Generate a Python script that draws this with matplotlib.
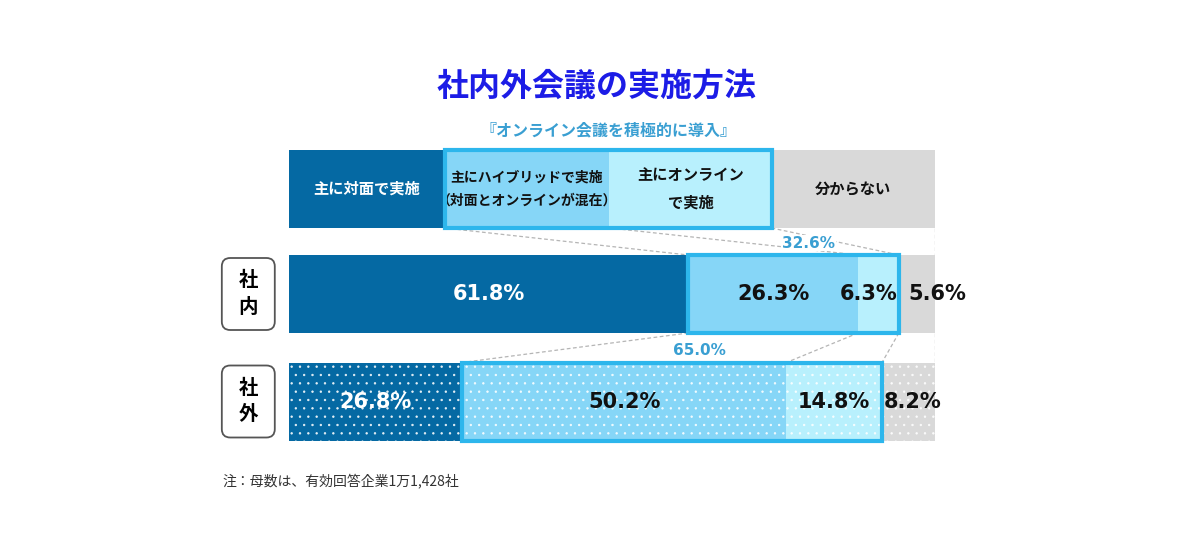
import matplotlib
matplotlib.use('Agg')
import matplotlib.pyplot as plt
from matplotlib.patches import Rectangle, FancyBboxPatch
import numpy as np

plt.rcParams['font.family'] = ['Noto Sans CJK JP', 'DejaVu Sans']
plt.rcParams['hatch.linewidth'] = 0.5

# data
header_labels = ['主に対面で実施', '主にハイブリッドで実施\n（対面とオンラインが混在）',
                 '主にオンライン\nで実施', '分からない']
header_widths = [24.1, 25.5, 25.1, 25.3]
rows = ['社\n内', '社\n外']
shanai = [61.8, 26.3, 6.3, 5.6]
shagai = [26.8, 50.2, 14.8, 8.2]
online_total = [32.6, 65.0]

title = '社内外会議の実施方法'
subtitle = '『オンライン会議を積極的に導入』'
note = '注：母数は、有効回答企業1万1,428社'

colors = ['#0569a3', '#86d6f7', '#b8f0fd', '#d9d9d9']
box_color = '#2db6ec'
callout_color = '#3a9fd2'

# layout (y in pixels from top)
header_y, header_h = 189, 78
row_y = [294, 401.5]
row_h = 78

fig = plt.figure(figsize=(12, 5.57), dpi=100)
ax = fig.add_axes([289 / 1200, 0, 646 / 1200, 1])
ax.set_xlim(0, 100)
ax.set_ylim(557, 0)
ax.axis('off')

# header bar
left = np.concatenate([[0], np.cumsum(header_widths)[:-1]])
ax.barh(header_y, header_widths, left=left, height=header_h, color=colors, linewidth=0)
for i, lab in enumerate(header_labels):
    fs = 10 if i == 1 else 11
    ax.text(left[i] + header_widths[i] / 2, header_y, lab, ha='center', va='center',
            fontsize=fs, fontweight='bold', linespacing=1.9,
            color='white' if i == 0 else '#111111')
ax.add_patch(Rectangle((left[1], header_y - header_h / 2), header_widths[1] + header_widths[2],
                       header_h, fill=False, edgecolor=box_color, linewidth=3, zorder=5))
ax.text(left[1] + (header_widths[1] + header_widths[2]) / 2, 130, subtitle, ha='center',
        va='center', fontsize=11.5, color=callout_color, fontweight='bold')

# data rows
starts = []
for r, vals in enumerate([shanai, shagai]):
    y = row_y[r]
    lf = np.concatenate([[0], np.cumsum(vals)[:-1]])
    starts.append(lf)
    ax.barh(y, vals, left=lf, height=row_h, color=colors, linewidth=0, zorder=2)
    if r == 1:
        ax.barh(y, vals, left=lf, height=row_h, color='none', edgecolor=(1, 1, 1, 0.85),
                hatch='..', linewidth=0, zorder=3)
    ax.add_patch(Rectangle((lf[1], y - row_h / 2), vals[1] + vals[2], row_h, fill=False,
                           edgecolor=box_color, linewidth=3, zorder=5))
    for i, v in enumerate(vals):
        txt = f'{v:.1f}%'
        col = 'white' if i == 0 else '#111111'
        kw = dict(va='center', fontsize=15, fontweight='bold', color=col,
                  family='DejaVu Sans', zorder=6, clip_on=False)
        if i == 3:
            ax.text(lf[i] + (1.5 if r == 0 else 0.3), y, txt, ha='left', **kw)
        elif i == 2 and r == 0:
            ax.text(lf[i] + v - 0.2, y, txt, ha='right', **kw)
        else:
            ax.text(lf[i] + v / 2, y, txt, ha='center', **kw)
    # row label box
    ax.add_patch(FancyBboxPatch((-10.4, y - 36), 8.2, 72,
                                boxstyle='round,pad=0,rounding_size=1.3',
                                mutation_aspect=6.46, facecolor='white',
                                edgecolor='#555555', linewidth=1.3, clip_on=False))
    ax.text(-6.3, y, rows[r], ha='center', va='center', fontsize=14, fontweight='bold',
            linespacing=1.5, clip_on=False)

# connectors
dash = dict(color='#b5b5b5', linewidth=0.9, linestyle=(0, (3, 2)), zorder=1)
hdr_cum = np.cumsum(header_widths)
r1 = starts[0]
r2 = starts[1]
top1 = row_y[0] - row_h / 2
bot1 = row_y[0] + row_h / 2
top2 = row_y[1] - row_h / 2
hbot = header_y + header_h / 2
ax.plot([hdr_cum[0], r1[1]], [hbot, top1], **dash)
ax.plot([hdr_cum[1], r1[2]], [hbot, top1], **dash)
ax.plot([hdr_cum[2], r1[3]], [hbot, top1], **dash)
ax.plot([r1[1], r2[1]], [bot1, top2], **dash)
ax.plot([r1[2], r2[2]], [bot1, top2], **dash)
ax.plot([r1[3], r2[3]], [bot1, top2], **dash)
ax.plot([100, 100], [hbot, top1], **dash)
ax.plot([100, 100], [bot1, top2], **dash)
ax.plot([-0.3, -0.3], [135, 452], color='#e0e0e0', linewidth=1.5, zorder=1)

# online totals
ax.text(r1[1] + online_total[0] / 2 + 2.3, top1 - 12, f'{online_total[0]:.1f}%', ha='center',
        va='center', fontsize=11, fontweight='bold', color=callout_color, family='DejaVu Sans',
        bbox=dict(facecolor='white', edgecolor='none', pad=0.5), zorder=4)
ax.text(r2[1] + online_total[1] / 2 + 4.3, top2 - 12, f'{online_total[1]:.1f}%', ha='center',
        va='center', fontsize=11, fontweight='bold', color=callout_color, family='DejaVu Sans',
        bbox=dict(facecolor='white', edgecolor='none', pad=0.5), zorder=4)

fig.text(597 / 1200, 1 - 87 / 557, title, ha='center', va='center', fontsize=23,
         fontweight='bold', color='#1c1ce6')
fig.text(222 / 1200, 1 - 482 / 557, note, ha='left', va='center', fontsize=10, color='#333333')

fig.savefig('out.png', dpi=100)
